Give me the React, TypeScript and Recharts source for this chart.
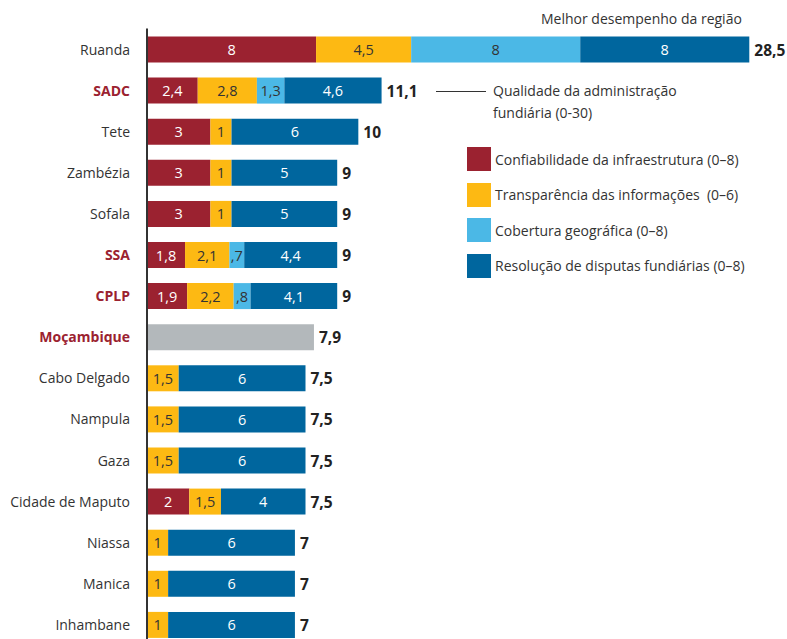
import React from 'react'
import { BarChart, Bar, XAxis, YAxis, LabelList } from 'recharts'

const FONT = '"Open Sans", "DejaVu Sans", sans-serif'

const categories = [
  'Ruanda', 'SADC', 'Tete', 'Zambézia', 'Sofala', 'SSA', 'CPLP', 'Moçambique',
  'Cabo Delgado', 'Nampula', 'Gaza', 'Cidade de Maputo', 'Niassa', 'Manica', 'Inhambane',
]
const highlighted = ['SADC', 'SSA', 'CPLP', 'Moçambique']

const infraestrutura = [8, 2.4, 3, 3, 3, 1.8, 1.9, null, null, null, null, 2, null, null, null]
const transparencia = [4.5, 2.8, 1, 1, 1, 2.1, 2.2, null, 1.5, 1.5, 1.5, 1.5, 1, 1, 1]
const cobertura = [8, 1.3, null, null, null, 0.7, 0.8, null, null, null, null, null, null, null, null]
const resolucao = [8, 4.6, 6, 5, 5, 4.4, 4.1, null, 6, 6, 6, 4, 6, 6, 6]
const geral = [null, null, null, null, null, null, null, 7.9, null, null, null, null, null, null, null]
const totals = [28.5, 11.1, 10, 9, 9, 9, 9, 7.9, 7.5, 7.5, 7.5, 7.5, 7, 7, 7]

const series = [
  { key: 'infra', name: 'Confiabilidade da infraestrutura (0–8)', color: '#9B2230', text: '#ffffff' },
  { key: 'transp', name: 'Transparência das informações  (0–6)', color: '#FDB913', text: '#333333' },
  { key: 'cob', name: 'Cobertura geográfica (0–8)', color: '#4BB8E6', text: '#333333' },
  { key: 'res', name: 'Resolução de disputas fundiárias (0–8)', color: '#00669E', text: '#ffffff' },
]

const data = categories.map((name, i) => ({
  name,
  infra: infraestrutura[i],
  transp: transparencia[i],
  cob: cobertura[i],
  res: resolucao[i],
  geral: geral[i],
  total: totals[i],
}))

const fmt = (v: number) => {
  const s = String(v).replace('.', ',')
  return s.startsWith('0,') ? s.slice(1) : s
}

const CategoryTick = (props: any) => {
  const { x, y, payload } = props
  const hl = highlighted.includes(payload.value)
  return (
    <text
      x={x - 9}
      y={y}
      textAnchor="end"
      dominantBaseline="central"
      fontFamily={FONT}
      fontSize={14}
      fontWeight={hl ? 700 : 400}
      fill={hl ? '#9B2230' : '#333333'}
    >
      {payload.value}
    </text>
  )
}

const segmentLabel = (color: string) => (props: any) => {
  const { x, y, width, height, value } = props
  if (value == null || !width) return null
  return (
    <text
      x={x + width / 2}
      y={y + height / 2}
      textAnchor="middle"
      dominantBaseline="central"
      fontFamily={FONT}
      fontSize={14.5}
      fill={color}
    >
      {fmt(value)}
    </text>
  )
}

const totalLabel = (props: any) => {
  const { x, y, width, height, value } = props
  return (
    <text
      x={x + width + 5}
      y={y + height / 2}
      dominantBaseline="central"
      fontFamily={FONT}
      fontSize={15.5}
      fontWeight={700}
      fill="#222222"
    >
      {fmt(value)}
    </text>
  )
}

const textStyle: React.CSSProperties = {
  position: 'absolute',
  fontFamily: FONT,
  fontSize: 14,
  color: '#333333',
  whiteSpace: 'nowrap',
  lineHeight: '22px',
}

export default function App() {
  return (
    <div style={{ position: 'absolute', left: 0, top: 0, width: 787, height: 639, overflow: 'hidden', background: '#fff' }}>
      <BarChart
        layout="vertical"
        width={787}
        height={650}
        data={data}
        margin={{ top: 28.5, right: 6, bottom: 5, left: 0 }}
        barSize={26}
      >
        <XAxis type="number" hide domain={[0, 30]} />
        <YAxis
          yAxisId="main"
          type="category"
          dataKey="name"
          width={147}
          tickLine={false}
          axisLine={{ stroke: '#333333', strokeWidth: 2 }}
          tick={<CategoryTick />}
          interval={0}
        />
        <YAxis yAxisId="totals" type="category" dataKey="name" hide />
        {series.map((s) => (
          <Bar key={s.key} yAxisId="main" dataKey={s.key} stackId="a" fill={s.color} isAnimationActive={false}>
            <LabelList dataKey={s.key} content={segmentLabel(s.text)} />
          </Bar>
        ))}
        <Bar yAxisId="main" dataKey="geral" stackId="a" fill="#B3B8BB" isAnimationActive={false} />
        <Bar yAxisId="totals" dataKey="total" fill="none" isAnimationActive={false}>
          <LabelList dataKey="total" content={totalLabel} />
        </Bar>
      </BarChart>

      <div style={{ ...textStyle, left: 541, top: 8 }}>Melhor desempenho da região</div>

      <div style={{ position: 'absolute', left: 436, top: 91, width: 50, height: 1, background: '#333333' }} />
      <div style={{ ...textStyle, left: 493, top: 80 }}>
        Qualidade da administração
        <br />
        fundiária (0-30)
      </div>

      {series.map((s, i) => (
        <div key={s.key} style={{ position: 'absolute', left: 467, top: 147 + i * 35.5, display: 'flex', alignItems: 'center' }}>
          <div style={{ width: 24, height: 24, background: s.color, marginRight: 4 }} />
          <span style={{ fontFamily: FONT, fontSize: 14, color: '#333333', whiteSpace: 'pre' }}>{s.name}</span>
        </div>
      ))}
    </div>
  )
}
